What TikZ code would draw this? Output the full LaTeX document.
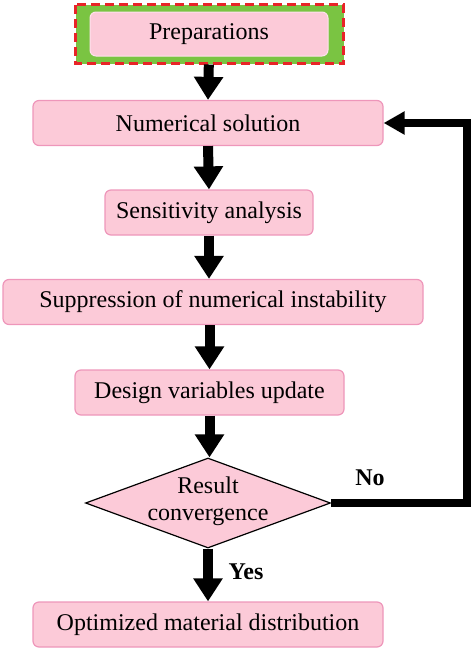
\documentclass[tikz,border=0pt]{standalone}
\usepackage{fontspec}
\setmainfont{Liberation Serif}
\usetikzlibrary{arrows.meta,shapes.geometric}
\tikzset {>=Stealth}
\definecolor{boxfill}{RGB}{252,202,216}
\definecolor{boxline}{RGB}{238,150,186}
\definecolor{prepedge}{RGB}{255,226,236}
\definecolor{prepgreen}{RGB}{122,196,66}
\definecolor{prepred}{RGB}{232,36,40}
\tikzset{
  stepbox/.style={draw=boxline, fill=boxfill, line width=1.2pt,
    rounded corners=6pt, inner sep=0pt, minimum height=45pt,
    font=\fontsize{24}{27}\selectfont},
  flow/.style={line width=10pt, -{Triangle[width=28pt,length=23pt]}},
  loopback/.style={line width=8pt, -{Triangle[width=22pt,length=21pt]}},
  answer/.style={font=\bfseries\fontsize{24}{26}\selectfont}
}
\begin{document}
\begin{tikzpicture}[x=1pt,y=-1pt]
\useasboundingbox (0,0) rectangle (474,651);
% frame round the first step
\draw[prepred, fill=prepgreen, line width=3pt, dash pattern=on 9pt off 5pt]
  (75.5,4.5) rectangle (343.5,63.5);
\node[stepbox, draw=prepedge, line width=1pt, minimum width=238pt, minimum height=44pt]
  (prep) at (209,34) {Preparations};
\node[stepbox, minimum width=350pt] (num)  at (208,123)   {Numerical solution};
\node[stepbox, minimum width=208pt] (sens) at (209,212.5) {Sensitivity analysis};
\node[stepbox, minimum width=420pt] (supp) at (213,302)   {Suppression of numerical instability};
\node[stepbox, minimum width=269pt] (upd)  at (209.5,392.5) {Design variables update};
\node[draw=black, fill=boxfill, line width=1.2pt, shape=diamond, aspect=2.72,
  inner sep=0pt, minimum width=245pt, minimum height=90pt] (conv) at (208,503) {};
\node[align=center, font=\fontsize{24}{27}\selectfont] (convtext) at (208,501)
  {Result\\convergence};
\node[stepbox, minimum width=350pt] (opt)  at (208,624.5) {Optimized material distribution};

\draw[flow, shorten <=8pt] (prep.south) -- (num.north);
\draw[flow] (num.south)  -- (sens.north);
\draw[flow] (sens.south) -- (supp.north -| sens.south);
\draw[flow] (supp.south -| upd.north) -- (upd.north);
\draw[flow] (upd.south)  -- (conv.north -| upd.south);
\draw[flow] (conv.south) -- (opt.north);
\draw[loopback] (conv.east) -- (467,503) -- (467,123) -- (num.east);

\node[answer] (no)  at (370,478) {No};
\node[answer] (yes) at (246,572) {Yes};
\end{tikzpicture}
\end{document}
